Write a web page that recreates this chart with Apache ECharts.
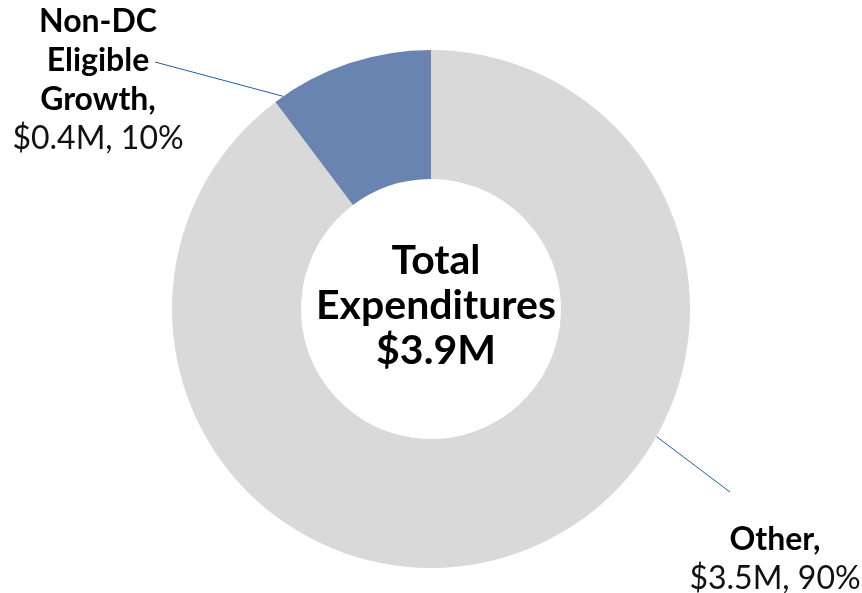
<!DOCTYPE html>
<html><head><meta charset="utf-8">
<script src="https://cdn.jsdelivr.net/npm/echarts@6/dist/echarts.min.js"></script>
<style>html,body{margin:0;padding:0;background:#fff}#c{width:862px;height:593px}</style>
</head><body><div id="c"></div>
<script>
const categories = ['Other', 'Non-DC Eligible Growth'];
const labelNames = ['Other,', 'Non-DC\nEligible\nGrowth,'];
const values = [3.5, 0.4];
const colors = ['#d9d9d9', '#6984b0'];
const centerText = ['Total', 'Expenditures', '$3.9M'];

// annotation layout (label anchors, leader line start angle on outer rim in degrees clockwise from 12 o'clock, leader end)
const labelAnchor = [[775, 559], [98, 80]];
const leaderAngle = [119.5, -34.8];
const leaderEnd = [[730, 492], [155, 62]];

const CX = 431, CY = 309, R_IN = 130, R_OUT = 259;
const chart = echarts.init(document.getElementById('c'));
const FONT = 'Lato, "Noto Sans", sans-serif';
chart.setOption({
  animation: false,
  title: {
    text: centerText.join('\n'),
    left: CX, top: 233, textAlign: 'center',
    textStyle: {fontFamily: FONT, fontWeight: 'bold', fontSize: 41, lineHeight: 45, color: '#000'}
  },
  series: [{
    type: 'pie',
    center: [CX, CY],
    radius: [R_IN, R_OUT],
    startAngle: 90,
    clockwise: true,
    data: categories.map((c, i) => ({name: c, value: values[i], itemStyle: {color: colors[i]}})),
    label: {
      show: true,
      position: 'outside',
      fontFamily: FONT,
      formatter: p => '{b|' + labelNames[p.dataIndex] + '}\n{v|$' + p.value.toFixed(1) + 'M, ' + Math.round(p.percent) + '%}',
      rich: {
        b: {fontFamily: FONT, fontWeight: 'bold', fontSize: 32, lineHeight: 39, color: '#000', align: 'center'},
        v: {fontFamily: FONT, fontWeight: 'normal', fontSize: 32, lineHeight: 39, color: '#111', align: 'center'}
      }
    },
    labelLine: {show: true, length: 20, length2: 0, lineStyle: {color: '#1f5fa5', width: 1}},
    labelLayout: function (p) {
      const i = p.dataIndex;
      const a = leaderAngle[i] * Math.PI / 180;
      const start = [CX + R_OUT * Math.sin(a), CY - R_OUT * Math.cos(a)];
      return {
        x: labelAnchor[i][0], y: labelAnchor[i][1], align: 'center', verticalAlign: 'middle',
        labelLinePoints: [start, leaderEnd[i], leaderEnd[i]]
      };
    }
  }]
});
</script></body></html>
